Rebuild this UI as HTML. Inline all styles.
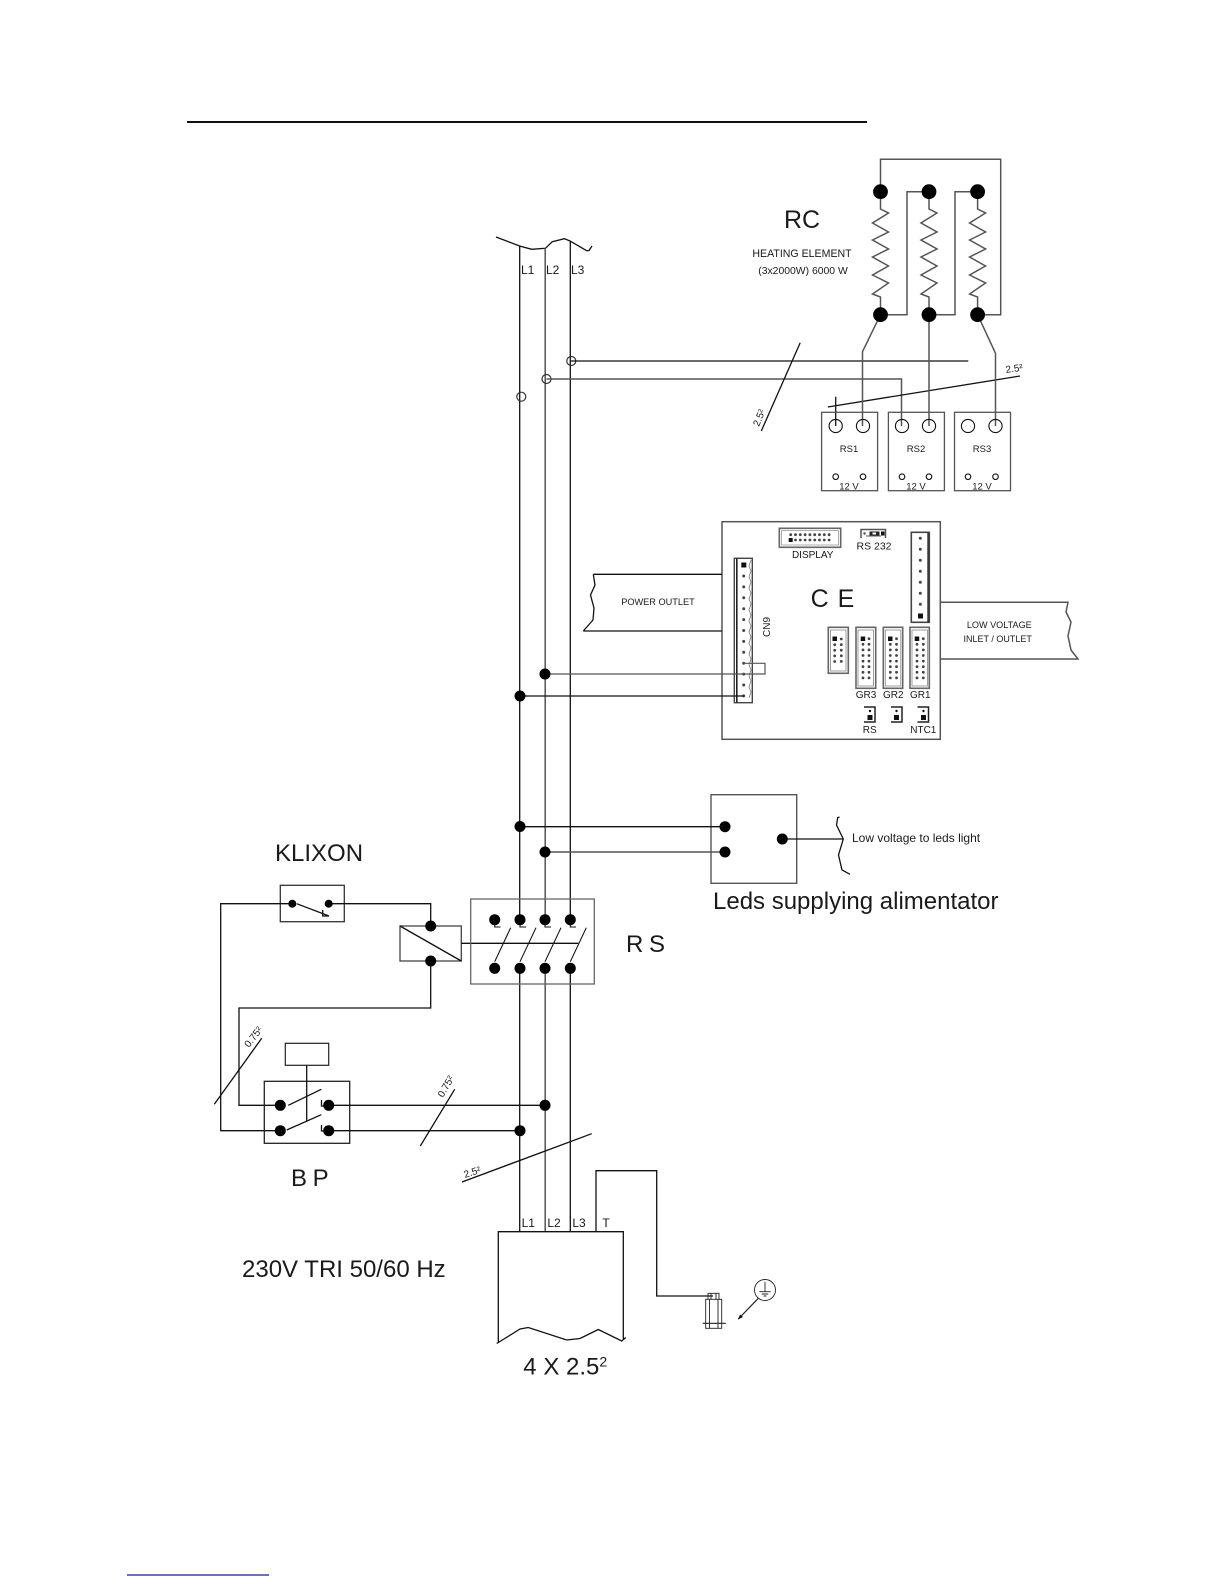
<!DOCTYPE html>
<html><head><meta charset="utf-8"><title>Wiring diagram</title>
<style>
html,body{margin:0;padding:0;background:#fff}
svg{display:block}
text{font-family:"Liberation Sans",sans-serif;fill:#1a1a1a}
.w{fill:none;stroke:#111;stroke-width:1.3}
.g{fill:none;stroke:#555;stroke-width:1.5}
.b{fill:#000}
.p{fill:none;stroke:#444;stroke-width:3;stroke-linecap:round}
.h{fill:#fff;stroke:#666;stroke-width:1.6}
.m{text-anchor:middle}
</style></head><body>
<svg width="1224" height="1584" viewBox="0 0 1224 1584" xmlns="http://www.w3.org/2000/svg">
<rect width="1224" height="1584" fill="#fff"/>
<line x1="187" y1="122" x2="867" y2="122" stroke="#111" stroke-width="2"/>
<line x1="127" y1="1575" x2="269" y2="1575" stroke="#1a1a8c" stroke-width="1.2"/>

<!-- Buses -->
<path class="w" d="M496 237L519.6 246L531.7 249.3L545.4 248.3L552.3 241.7L564.4 238.7L570 241L586.7 250.7L589 250.5L592 246"/>
<path class="w" d="M519.7 246V920M519.7 968V1232M570.3 241V920M570.3 968V1232"/>
<path class="g" d="M545.2 248.3V920M545.2 968V1232"/>
<text x="521" y="274" font-size="12">L1</text><text x="546" y="274" font-size="12">L2</text><text x="571" y="274" font-size="12">L3</text>
<g fill="none" stroke="#333" stroke-width="1.2">
<circle cx="571.3" cy="361" r="4.5"/>
<circle cx="546.5" cy="379" r="4.5"/>
<circle cx="521.3" cy="396.7" r="4.5"/>
</g>
<path class="w" d="M571 361H968.3"/>
<path class="g" d="M546.5 379H901.5V426"/>
<path class="w" d="M800.2 342.7L761.3 431M827.8 407L1020 376M835.7 396.7V426"/>
<text font-size="10" transform="translate(759,427) rotate(-68)">2.5²</text>
<text font-size="10" transform="translate(1006,373) rotate(-8)">2.5²</text>

<!-- Heating elements -->
<path class="g" d="M880.5 191.7V159.3H1000.7V314.7H977.6M880.5 314.7H907V191.7H929M929 314.7H955V191.7H977.6"/>
<path class="g" d="M880.5 191.7V209L888.5 213L872.5 223L888.5 232L872.5 240L888.5 249L872.5 257L888.5 266L872.5 275L888.5 283L872.5 294L880.5 297V314.7"/>
<path class="g" d="M929 191.7V209L937 213L921 223L937 232L921 240L937 249L921 257L937 266L921 275L937 283L921 294L929 297V314.7"/>
<path class="g" d="M977.6 191.7V209L985.6 213L969.6 223L985.6 232L969.6 240L985.6 249L969.6 257L985.6 266L969.6 275L985.6 283L969.6 294L977.6 297V314.7"/>
<path class="g" d="M880.5 314.7L862.5 351.7V426M929 314.7V426M977.6 314.7L995.5 353.3V426"/>
<g class="b">
<circle cx="880.5" cy="191.7" r="7.4"/><circle cx="929" cy="191.7" r="7.4"/><circle cx="977.6" cy="191.7" r="7.4"/>
<circle cx="880.5" cy="314.7" r="7.4"/><circle cx="929" cy="314.7" r="7.4"/><circle cx="977.6" cy="314.7" r="7.4"/>
</g>
<text x="802" y="228" font-size="25" class="m">RC</text>
<text x="802" y="257" font-size="10.6" class="m">HEATING ELEMENT</text>
<text x="803" y="274" font-size="10.4" class="m">(3x2000W) 6000 W</text>

<!-- RS modules -->
<g class="g" style="stroke-width:1.3">
<rect x="821.6" y="412.3" width="56" height="78.4"/><rect x="888.4" y="412.3" width="56" height="78.4"/><rect x="954.5" y="412.3" width="56" height="78.4"/>
</g>
<g class="w" style="stroke-width:1.1">
<circle cx="835.7" cy="426" r="6.6"/><circle cx="863" cy="426" r="6.6"/><circle cx="902" cy="426" r="6.6"/><circle cx="929" cy="426" r="6.6"/><circle cx="968" cy="426" r="6.6"/><circle cx="995.5" cy="426" r="6.6"/>
<circle cx="835.7" cy="476.7" r="2.8"/><circle cx="863" cy="476.7" r="2.8"/><circle cx="902" cy="476.7" r="2.8"/><circle cx="929" cy="476.7" r="2.8"/><circle cx="968" cy="476.7" r="2.8"/><circle cx="995.5" cy="476.7" r="2.8"/>
</g>
<g font-size="9.5">
<text x="849" y="452" class="m">RS1</text><text x="916" y="452" class="m">RS2</text><text x="982" y="452" class="m">RS3</text>
<text x="849" y="489.5" class="m">12 V</text><text x="916" y="489.5" class="m">12 V</text><text x="982" y="489.5" class="m">12 V</text>
</g>

<!-- Control board -->
<rect x="722" y="521.7" width="218.3" height="217.6" fill="none" stroke="#555" stroke-width="1.5"/>
<path class="w" d="M593.3 574.3H722M583.3 631H722M593.3 574.3L595 585L590.5 595L594 608L593 620L583.3 631"/>
<text x="658" y="605" font-size="9.2" class="m">POWER OUTLET</text>
<path class="g" d="M940.3 602.3H1068L1066 612L1071 622L1068 636L1071 650L1078 659H940.3"/>
<text x="999.3" y="628" font-size="9.1" class="m">LOW VOLTAGE</text>
<text x="997.7" y="642" font-size="9" class="m">INLET / OUTLET</text>
<text x="832.5" y="607" font-size="25" class="m" word-spacing="2">C E</text>
<text font-size="10" class="m" transform="translate(770,627) rotate(-90)">CN9</text>

<!-- CN9 connector -->
<rect x="734.3" y="558.3" width="18" height="144.4" fill="#fff" stroke="#444" stroke-width="1.4"/>
<path d="M736.8 558.3V702.7" stroke="#222" stroke-width="1.6" fill="none"/>
<path d="M751 560l-2 6 2 5-2 6 2 5-2 6 2 5-2 6 2 5-2 6 2 5-2 6 2 5-2 6 2 5-2 6 2 5-2 6 2 5-2 6 2 5-2 6 2 5-2 6 2 5-2 6" stroke="#777" stroke-width=".8" fill="none"/>
<rect x="741.3" y="562.5" width="5" height="5" fill="#111"/>
<path class="p" stroke-dasharray="0 10.9" d="M743.7 576V696"/>
<path class="g" d="M545 674H765V663.3H743.7" style="stroke-width:1.2"/>
<path class="w" d="M520 696H743.7"/>

<!-- Display connector -->
<rect x="779.3" y="528.3" width="61.4" height="19" class="h"/>
<rect x="781.5" y="530.5" width="57" height="14.5" fill="#fff" stroke="#999" stroke-width=".8"/>
<path class="p" style="stroke-width:2.8" stroke-dasharray="0 4.8" d="M790.7 534.7H830"/>
<path class="p" style="stroke-width:2.8" stroke-dasharray="0 4.8" d="M795.5 540H830"/>
<rect x="788.7" y="538" width="4" height="4" fill="#111"/>
<text x="812.7" y="558" font-size="10" class="m">DISPLAY</text>
<!-- RS232 -->
<path d="M861 538V529.5H885.5V538" fill="none" stroke="#555" stroke-width="1.5"/>
<path d="M866 536H881" stroke="#555" stroke-width="1"/>
<circle cx="864.5" cy="533.5" r="1.2" fill="#444"/>
<rect x="869.5" y="531.5" width="10" height="4" fill="#222"/><rect x="881" y="531.5" width="3.5" height="4" fill="#111"/>
<rect x="872.5" y="532.5" width="3.5" height="2" fill="#fff"/>
<text x="874" y="549.5" font-size="10.5" class="m">RS 232</text>
<!-- Right connector -->
<rect x="911.3" y="532.3" width="18" height="90" class="h" style="stroke:#444"/>
<path d="M928 532.3V622.3" stroke="#333" stroke-width="1.4"/>
<path class="p" stroke-dasharray="0 11" d="M920.3 538.3V610"/>
<rect x="918" y="613.5" width="5" height="5" fill="#111"/>

<!-- Pin headers -->
<g class="h">
<rect x="828.3" y="627.3" width="20" height="46"/>
<rect x="856" y="627.3" width="19.7" height="61"/>
<rect x="883.3" y="627.3" width="19.4" height="61"/>
<rect x="910" y="627.3" width="19.3" height="61"/>
</g>
<g fill="none" stroke="#888" stroke-width=".8">
<rect x="830.5" y="630" width="15.5" height="41"/>
<rect x="858" y="630" width="15.5" height="56"/>
<rect x="885.3" y="630" width="15.5" height="56"/>
<rect x="912" y="630" width="15.5" height="56"/>
</g>
<g class="p" style="stroke-width:2.8" stroke-dasharray="0 5.6">
<path d="M841.3 639V663"/><path d="M834.7 644.7V663"/>
<path d="M869 638.7V678"/><path d="M863 644.3V678"/>
<path d="M896.5 638.7V678"/><path d="M890.3 644.3V678"/>
<path d="M923.3 638.7V678"/><path d="M917 644.3V678"/>
</g>
<rect x="832.5" y="636.5" width="4.5" height="4.5" fill="#111"/>
<rect x="860.7" y="636.5" width="4.5" height="4.5" fill="#111"/>
<rect x="888" y="636.5" width="4.5" height="4.5" fill="#111"/>
<rect x="914.7" y="636.5" width="4.5" height="4.5" fill="#111"/>
<g font-size="10">
<text x="866" y="698" class="m">GR3</text><text x="893.3" y="698" class="m">GR2</text><text x="920.3" y="698" class="m">GR1</text>
<text x="869.7" y="733" class="m">RS</text><text x="923.3" y="733" class="m">NTC1</text>
</g>
<!-- Jumpers -->
<g fill="none" stroke="#222" stroke-width="1.5">
<path d="M864 707H875V722H864"/><path d="M891 707H902V722H891"/><path d="M917.5 707H928.5V722H917.5"/>
</g>
<g fill="#111">
<rect x="867.5" y="715" width="5" height="5"/><rect x="894" y="715" width="5" height="5"/><rect x="921" y="715" width="5" height="5"/>
<circle cx="870" cy="711" r="1.2"/><circle cx="896.5" cy="711" r="1.2"/><circle cx="923.5" cy="711" r="1.2"/>
</g>

<!-- LED supply -->
<rect x="711" y="794.7" width="85.7" height="88.6" fill="none" stroke="#555" stroke-width="1.4"/>
<path class="w" d="M520 826.7H725M782.3 839H843.3M850 874.3L842 870L838.5 855L843.3 839L836.5 825L837.7 817.7L839.5 817"/>
<path class="g" d="M545 852H725"/>
<g class="b">
<circle cx="725" cy="826.7" r="5.5"/><circle cx="725" cy="852" r="5.5"/><circle cx="782.3" cy="839" r="5.5"/>
<circle cx="520" cy="826.5" r="5.5"/><circle cx="545" cy="852" r="5.5"/>
<circle cx="545" cy="674" r="5.5"/><circle cx="520" cy="696" r="5.5"/>
</g>
<text x="852" y="842" font-size="12">Low voltage to leds light</text>
<text x="713" y="909" font-size="24">Leds supplying alimentator</text>

<!-- Klixon & relay -->
<text x="275" y="861" font-size="24">KLIXON</text>
<rect x="280.3" y="885.3" width="64" height="36.4" fill="none" stroke="#333" stroke-width="1.3"/>
<path class="w" d="M292.3 903.7H220.7V1130.7H280.3M328.7 903.7H430.7V926M296.7 903.7L329 916M322.7 910V916H329M430.7 961V1008H239V1105.3H280.3"/>
<circle class="b" cx="292.3" cy="903.7" r="4"/><circle class="b" cx="328.7" cy="903.7" r="4"/>
<rect x="400" y="926" width="61.3" height="35" fill="none" stroke="#444" stroke-width="1.3"/>
<path class="w" d="M400 926L461.3 961M461.3 943.3H578.3"/>
<circle class="b" cx="430.7" cy="926" r="5.5"/><circle class="b" cx="430.7" cy="961" r="5.5"/>

<!-- RS contactor -->
<rect x="470.7" y="899" width="123.6" height="85" fill="none" stroke="#666" stroke-width="1.3"/>
<g class="b">
<circle cx="494.7" cy="919.7" r="5.5"/><circle cx="520" cy="919.7" r="5.5"/><circle cx="545" cy="919.7" r="5.5"/><circle cx="570.3" cy="919.7" r="5.5"/>
<circle cx="494.7" cy="968.3" r="5.5"/><circle cx="520" cy="968.3" r="5.5"/><circle cx="545" cy="968.3" r="5.5"/><circle cx="570.3" cy="968.3" r="5.5"/>
</g>
<path class="w" style="stroke-width:1.1" d="M494.7 961.7L510.7 927.7M520 961.7L536 927.7M545 961.7L561 927.7M570.3 961.7L586.3 927.7M494.7 922V927H500.5M520 922V927H526M545 922V927H551M570.3 922V927H576"/>
<text x="626" y="952" font-size="24" word-spacing="-1">R S</text>

<!-- BP switch -->
<rect x="285.3" y="1043.3" width="43.4" height="22" fill="none" stroke="#222" stroke-width="1.2"/>
<rect x="264.3" y="1081.3" width="85.4" height="62" fill="none" stroke="#222" stroke-width="1.3"/>
<path class="w" d="M306.7 1065.3V1121M288.3 1105.3L321.3 1089.3M286.7 1130L321.3 1114.7M321.5 1100V1106H325M321.5 1125V1131H325M328.7 1105.3H545M328.7 1130.7H520"/>
<g class="b">
<circle cx="280.3" cy="1105.3" r="5.5"/><circle cx="328.7" cy="1105.3" r="5.5"/><circle cx="280.3" cy="1130.7" r="5.5"/><circle cx="328.7" cy="1130.7" r="5.5"/>
<circle cx="545" cy="1105.3" r="5.5"/><circle cx="520" cy="1130.7" r="5.5"/>
</g>
<path class="w" d="M261.7 1038.3L214.3 1104.3M454.7 1089.3L420.3 1146M591.7 1133.7L462 1182"/>
<text font-size="10" transform="translate(249,1048) rotate(-52)">0.75²</text>
<text font-size="10" transform="translate(443,1098) rotate(-60)">0.75²</text>
<text font-size="10" transform="translate(465,1178) rotate(-18)">2.5²</text>
<text x="291" y="1186" font-size="24" word-spacing="-1">B P</text>
<text x="242" y="1277" font-size="24">230V TRI 50/60 Hz</text>

<!-- Cable -->
<path class="w" d="M498.3 1342V1231.7H623.3V1339M496.7 1343.5L520 1329L528.3 1327.5L566.7 1340L580 1338.5L598.3 1329.5L621.7 1341L625.7 1337.5"/>
<path class="w" d="M596 1231.7V1170.7H656.7V1296H713"/>
<text x="528.3" y="1227" font-size="12" class="m">L1</text><text x="554" y="1227" font-size="12" class="m">L2</text><text x="579" y="1227" font-size="12" class="m">L3</text><text x="606" y="1227" font-size="12" class="m">T</text>
<text x="523.3" y="1374.3" font-size="24">4 X 2.5<tspan font-size="14" dy="-8">2</tspan></text>

<!-- Earth -->
<g fill="none" stroke="#222" stroke-width=".9">
<rect x="705.7" y="1299.3" width="16" height="29"/>
<path d="M709.5 1299.3V1328.3M718 1299.3V1328.3M708 1299.3V1293.3H719V1299.3M711 1293.3V1299.3M716 1293.3V1299.3"/>
<path d="M702.7 1323.3H725.7" stroke-width="1.2"/>
<circle cx="765" cy="1290" r="10.5"/>
<path d="M765 1281.7V1291.7M759.3 1291.7H770.7M761.7 1294H768.3M763.5 1296H766.5"/>
<path d="M758.3 1298.3L738.3 1319" stroke-width="1.2"/>
</g>
<path d="M738 1319.5L740 1314.5L743 1317Z" fill="#111"/>
</svg>
</body></html>
